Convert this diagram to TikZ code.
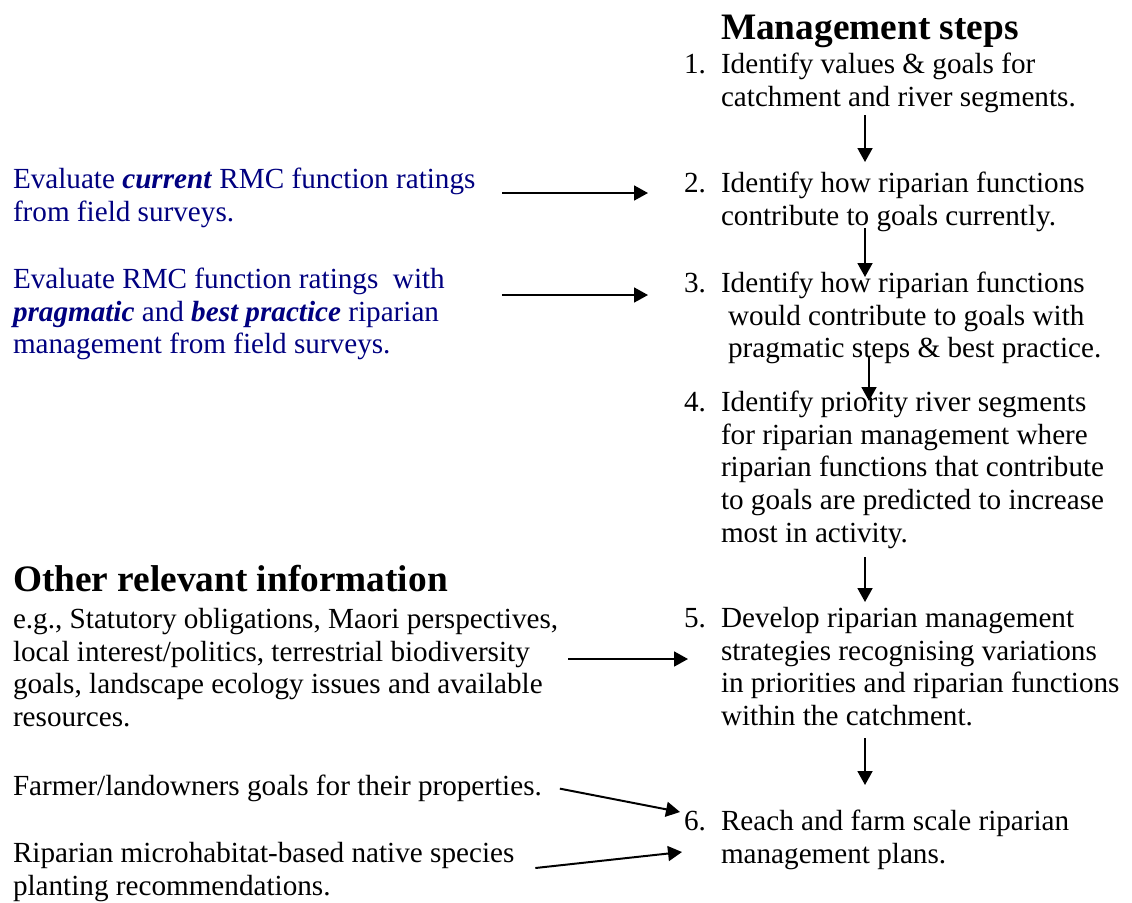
\documentclass[tikz,border=0pt]{standalone}
\usepackage{fontspec}
\setmainfont{Liberation Serif}
\usetikzlibrary{arrows.meta, calc}
\definecolor{navyblue}{RGB}{0,0,128}

\begin{document}
\begin{tikzpicture}[
    x=0.42857pt, y=-0.42857pt,
    every node/.style={inner sep=0pt, outer sep=0pt},
    heading/.style={anchor=base west, font=\fontsize{16}{18.4}\selectfont\bfseries},
    num/.style={anchor=base west, font=\fontsize{12.5}{14}\selectfont},
    stepbox/.style={anchor=north west, align=left, font=\fontsize{12.5}{14}\selectfont},
    evalbox/.style={stepbox, text=navyblue},
    infobox/.style={stepbox},
    arrow/.style={-{Triangle[length=6pt, width=6.4pt]}, line width=0.85pt}
]
\useasboundingbox (0,0) rectangle (1132,902);

% Management steps
\node[heading] (title) at (721,39) {Management steps};
\node[num] (n1) at (684,73) {1.};
\node[stepbox] (s1) at (721,53.1) {Identify values \& goals for\\catchment and river segments.};
\node[num] (n2) at (684,192) {2.};
\node[stepbox] (s2) at (721,172.1) {Identify how riparian functions\\contribute to goals currently.};
\node[num] (n3) at (684,292) {3.};
\node[stepbox] (s3) at (721,272.1) {Identify how riparian functions\\\hspace*{3pt}would contribute to goals with\\\hspace*{3pt}pragmatic steps \& best practice.};
\node[num] (n4) at (684,411) {4.};
\node[stepbox] (s4) at (721,391.1) {Identify priority river segments\\for riparian management where\\riparian functions that contribute\\to goals are predicted to increase\\most in activity.};
\node[num] (n5) at (684,627) {5.};
\node[stepbox] (s5) at (721,607.1) {Develop riparian management\\strategies recognising variations\\in priorities and riparian functions\\within the catchment.};
\node[num] (n6) at (684,830) {6.};
\node[stepbox] (s6) at (721,810.1) {Reach and farm scale riparian\\management plans.};

% Field survey evaluations
\node[evalbox] (cur) at (13,168.1) {Evaluate \textbf{\textit{current}} RMC function ratings\\from field surveys.};
\node[evalbox] (prag) at (13,268.1) {Evaluate RMC function ratings~ with\\\textbf{\textit{pragmatic}} and \textbf{\textit{best practice}} riparian\\management from field surveys.};

% Other information
\node[heading] (otherhead) at (13,591) {Other relevant information};
\node[infobox] (other) at (13,608.1) {e.g., Statutory obligations, Maori perspectives,\\local interest/politics, terrestrial biodiversity\\goals, landscape ecology issues and available\\resources.};
\node[infobox] (farmer) at (13,775.1) {Farmer/landowners goals for their properties.};
\node[infobox] (planting) at (13,842.1) {Riparian microhabitat-based native species\\planting recommendations.};

% Arrows
\coordinate (spine) at (865,0);
\draw[arrow] ($(spine |- n1.base)+(0,42)$) -- ($(spine |- n2.base)+(0,-30)$);
\draw[arrow] ($(spine |- n2.base)+(0,36)$) -- ($(spine |- n3.base)+(0,-15)$);
\draw[arrow] ($(spine |- n3.base)+(4,65)$) -- ($(spine |- n4.base)+(4,-10)$);
\draw[arrow] ($(spine |- n4.base)+(0,146)$) -- ($(spine |- n5.base)+(0,-25)$);
\draw[arrow] ($(spine |- n5.base)+(0,111)$) -- ($(spine |- n6.base)+(0,-45)$);

\draw[arrow] ($(cur.east |- n2.base)+(27,1)$) -- ($(n2.base west)+(-36,1)$);
\draw[arrow] ($(prag.east |- n3.base)+(57,3)$) -- ($(n3.base west)+(-36,3)$);
\draw[arrow] ($(other.east |- n5.base)+(10,32)$) -- ($(n5.base west)+(4,32)$);
\draw[arrow] ($(farmer.base east)+(18,-7)$) -- ($(n6.base west)+(-4,-18)$);
\draw[arrow] ($(planting.east |- n6.base)+(21,38)$) -- ($(n6.base west)+(-2,22)$);

\end{tikzpicture}
\end{document}
